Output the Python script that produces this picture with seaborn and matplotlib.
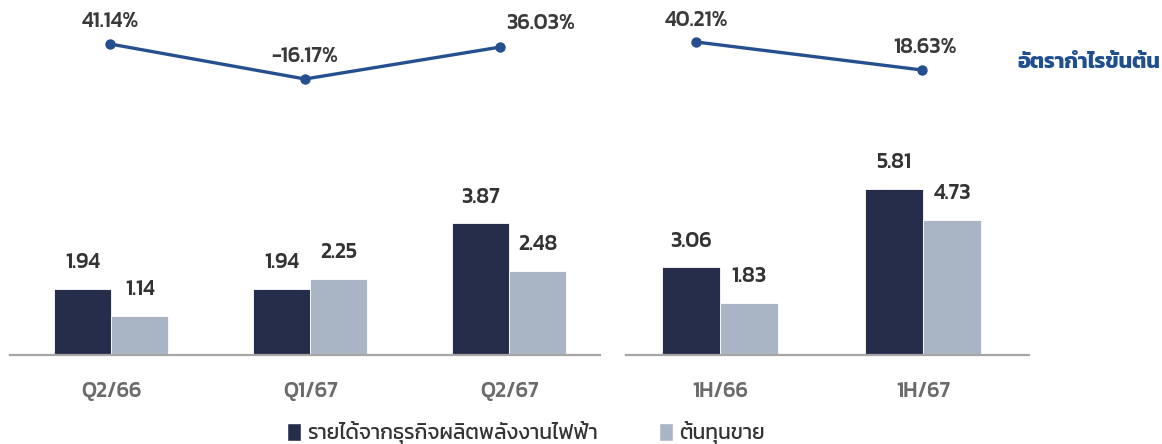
import matplotlib
matplotlib.use("Agg")
import matplotlib.pyplot as plt
from matplotlib.patches import Patch
import seaborn as sns
import pandas as pd

sns.set_theme(style="white")
plt.rcParams['font.family'] = ['Kanit', 'DejaVu Sans']

# data
q_periods = ['Q2/66', 'Q1/67', 'Q2/67']
q_revenue = [1.94, 1.94, 3.87]
q_cost = [1.14, 2.25, 2.48]
q_margin = [41.14, -16.17, 36.03]

h_periods = ['1H/66', '1H/67']
h_revenue = [3.06, 5.81]
h_cost = [1.83, 4.73]
h_margin = [40.21, 18.63]

series_names = ['รายได้จากธุรกิจผลิตพลังงานไฟฟ้า', 'ต้นทุนขาย']
margin_name = 'อัตรากำไรขั้นต้น'

DARK = '#262d4b'
LIGHT = '#a9b4c4'
LINE = '#264f90'
TXT = '#333333'

W, H = 1162, 444
fig = plt.figure(figsize=(W / 100, H / 100), dpi=100)


def px_axes(x0, x1, y0, y1):
    # axes from pixel box (top-left origin)
    return fig.add_axes([x0 / W, 1 - y1 / H, (x1 - x0) / W, (y1 - y0) / H])


def bar_panel(ax, periods, rev, cost, ytop, xlim):
    df = pd.DataFrame({
        'period': periods * 2,
        'value': rev + cost,
        'series': [series_names[0]] * len(periods) + [series_names[1]] * len(periods),
    })
    sns.barplot(data=df, x='period', y='value', hue='series',
                palette=[DARK, LIGHT], width=0.573, ax=ax, legend=False,
                saturation=1, edgecolor='white', linewidth=0.6)
    for cont in ax.containers:
        for bar in cont:
            ax.annotate(f"{bar.get_height():.2f}",
                        (bar.get_x() + bar.get_width() / 2, bar.get_height()),
                        xytext=(0, 19), textcoords='offset points',
                        ha='center', va='center', fontsize=15.5,
                        fontweight='medium', color=TXT)
    ax.set_ylim(0, ytop)
    ax.set_xlim(*xlim)
    ax.set_xlabel('')
    ax.set_ylabel('')
    ax.set_yticks([])
    for s in ['top', 'right', 'left']:
        ax.spines[s].set_visible(False)
    ax.spines['bottom'].set_color('#a6a6a6')
    ax.spines['bottom'].set_linewidth(1.6)
    ax.tick_params(axis='x', length=0, pad=19.5, labelsize=15.5,
                   labelcolor='#6b6b6b')
    for t in ax.get_xticklabels():
        t.set_fontweight('medium')
    ax.patch.set_alpha(0)


def line_panel(ax, periods, vals, ylim, xlim, offsets):
    sns.lineplot(x=list(range(len(periods))), y=vals, ax=ax, color=LINE,
                 linewidth=2.4, marker='o', markersize=7.5,
                 markeredgewidth=0)
    for i, v in enumerate(vals):
        ax.annotate(f"{v:.2f}%", (i, v), xytext=offsets[i],
                    textcoords='offset points', ha='center', va='center',
                    fontsize=15.5, fontweight='medium', color='#3a3a3a')
    ax.set_ylim(*ylim)
    ax.set_xlim(*xlim)
    ax.axis('off')


# quarterly bars
ax1 = px_axes(10, 600, 155, 355)
bar_panel(ax1, q_periods, q_revenue, q_cost, 200 / 34.0, (-0.51, 2.455))

# half-year bars
ax2 = px_axes(626, 1029, 155, 355)
bar_panel(ax2, h_periods, h_revenue, h_cost, 200 / 28.6, (-0.463, 1.522))

# margin lines
ax3 = px_axes(10, 600, 10, 100)
line_panel(ax3, q_periods, q_margin, (-50.56, 96.8), (-0.513, 2.513),
           [(0, 16), (0, 16), (29, 17)])

ax4 = px_axes(626, 1029, 10, 100)
line_panel(ax4, h_periods, h_margin, (-4.49, 64.87), (-0.31, 1.473),
           [(0, 15.5), (2, 16.5)])

fig.text(1160 / W, 1 - 63 / H, margin_name, ha='right', va='center',
         fontsize=15.5, fontweight='bold', color='#1f4f91')

handles = [Patch(facecolor=DARK, label=series_names[0]),
           Patch(facecolor=LIGHT, label=series_names[1])]
fig.legend(handles=handles, loc='center', bbox_to_anchor=(526 / W, 1 - 433 / H),
           ncol=2, frameon=False, fontsize=15, handlelength=0.7,
           handleheight=0.9, handletextpad=0.3, columnspacing=2.9,
           labelcolor=TXT)

fig.savefig('out.png', dpi=100)
